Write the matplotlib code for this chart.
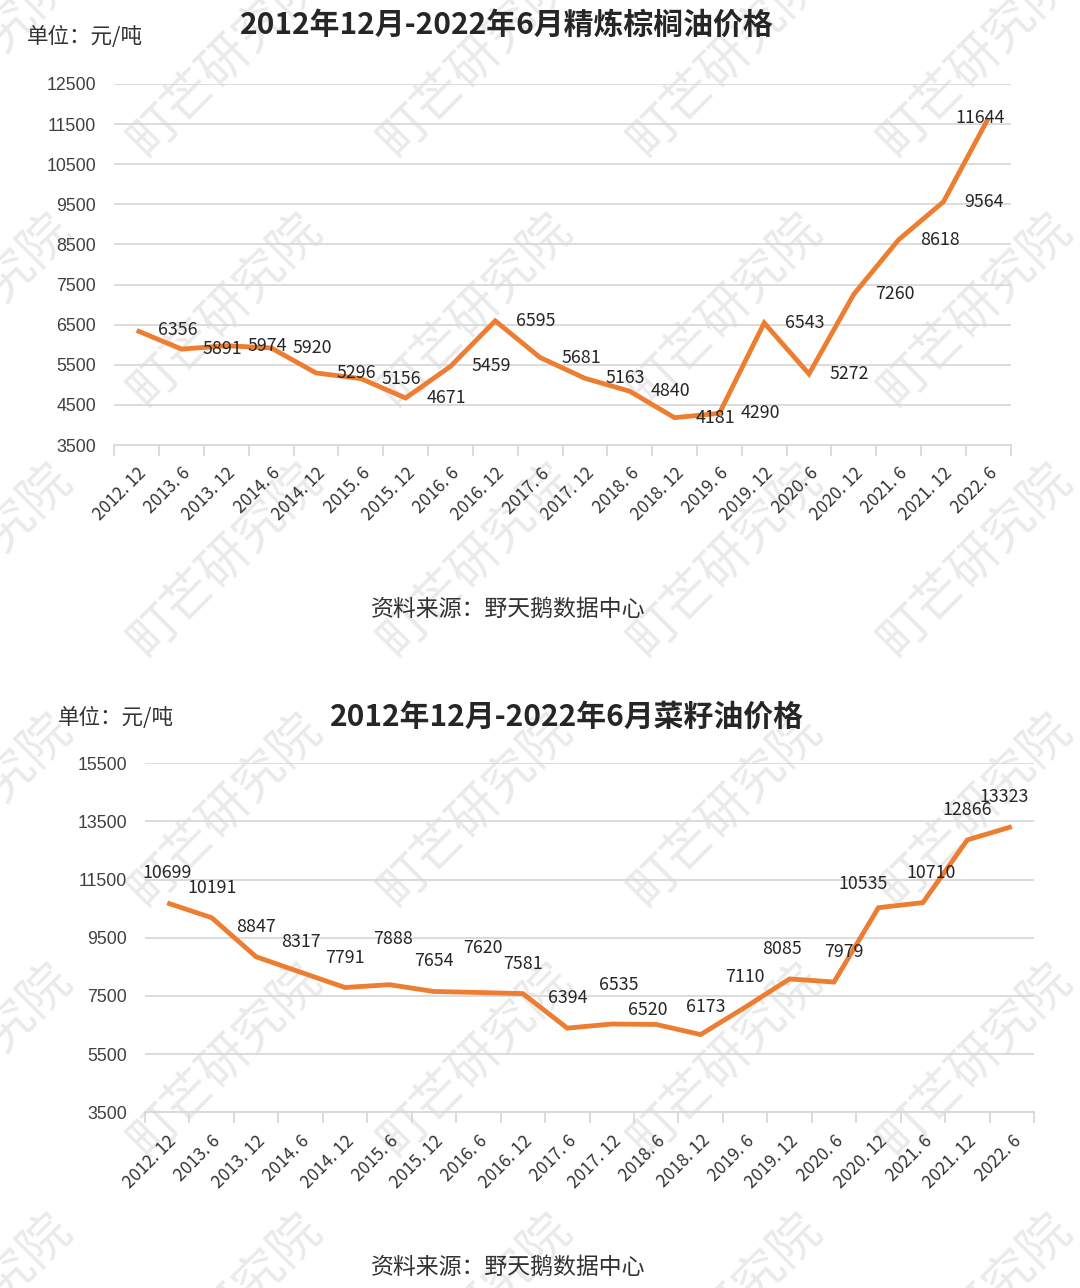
import matplotlib
matplotlib.use("Agg")
import matplotlib.pyplot as plt
from matplotlib.ticker import FixedLocator, NullFormatter

plt.rcParams['font.family'] = ['Noto Sans CJK SC', 'DejaVu Sans']

# ---------------- data ----------------
categories = ["2012.12", "2013.6", "2013.12", "2014.6", "2014.12", "2015.6", "2015.12",
              "2016.6", "2016.12", "2017.6", "2017.12", "2018.6", "2018.12", "2019.6",
              "2019.12", "2020.6", "2020.12", "2021.6", "2021.12", "2022.6"]
palm_prices = [6356, 5891, 5974, 5920, 5296, 5156, 4671, 5459, 6595, 5681,
               5163, 4840, 4181, 4290, 6543, 5272, 7260, 8618, 9564, 11644]
rapeseed_prices = [10699, 10191, 8847, 8317, 7791, 7888, 7654, 7620, 7581, 6394,
                   6535, 6520, 6173, 7110, 8085, 7979, 10535, 10710, 12866, 13323]
palm_yticks = [3500, 4500, 5500, 6500, 7500, 8500, 9500, 10500, 11500, 12500]
rapeseed_yticks = [3500, 5500, 7500, 9500, 11500, 13500, 15500]
title_palm = "2012年12月-2022年6月精炼棕榈油价格"
title_rapeseed = "2012年12月-2022年6月菜籽油价格"
unit_text = "单位：元/吨"
source_text = "资料来源：野天鹅数据中心"
watermark_text = "町芒研究院"

# ---------------- style ----------------
W, H = 1080, 1288
DPI = 100
ORANGE = "#ED7D31"
GRID = "#D9D9D9"
PX = 72.0 / DPI  # points per pixel

fig = plt.figure(figsize=(W / DPI, H / DPI), dpi=DPI)
fig.patch.set_facecolor("white")


def fx(px):
    return px / W


def fy(py):
    return 1 - py / H


# watermark (behind everything)
for cx in range(-25, 1100, 250):
    for cy in range(60, 1400, 250):
        fig.text(fx(cx), fy(cy), watermark_text, rotation=45, fontsize=36,
                 fontweight="normal", color="#EAEAEA", ha="center", va="center",
                 zorder=-5)


def make_axes(rect_px, values, yticks, label_mode, nudges):
    left, top, right, bottom = rect_px
    ax = fig.add_axes([fx(left), fy(bottom), (right - left) / W, (bottom - top) / H])
    ax.set_facecolor("none")
    x = list(range(len(values)))
    ax.plot(x, values, color=ORANGE, lw=4.8 * PX, solid_joinstyle="miter",
            solid_capstyle="butt", zorder=3)
    ax.set_xlim(-0.5, len(values) - 0.5)
    ax.set_ylim(yticks[0], yticks[-1])
    ax.set_yticks(yticks)
    ax.set_yticklabels([str(v) for v in yticks], fontfamily="Liberation Sans",
                       fontsize=12.8, color="#404040")
    ax.tick_params(axis="y", length=0, pad=13)
    ax.yaxis.grid(True, color=GRID, lw=1.3)
    ax.set_axisbelow(True)
    for s in ["left", "right", "top"]:
        ax.spines[s].set_visible(False)
    ax.spines["bottom"].set_color(GRID)
    ax.spines["bottom"].set_linewidth(1.3)
    # category labels at centres, tick marks at boundaries
    ax.set_xticks(x)
    ax.set_xticklabels([c.replace(".", ". ") for c in categories], rotation=45,
                       ha="right", va="top", rotation_mode="anchor",
                       fontsize=12.5, color="#333333")
    ax.tick_params(axis="x", which="major", length=0, pad=14)
    ax.xaxis.set_minor_locator(FixedLocator([i - 0.5 for i in range(len(values) + 1)]))
    ax.xaxis.set_minor_formatter(NullFormatter())
    ax.tick_params(axis="x", which="minor", length=8, width=1.3, color=GRID)
    for i, v in enumerate(values):
        if label_mode == "right":
            ha, dx, dy = "left", 21, 0
        else:
            ha, dx, dy = "center", 0, 30
        if i in nudges:
            ha, dx, dy = nudges[i]
        ax.annotate(str(v), (i, v), xytext=(dx * PX, dy * PX), textcoords="offset points",
                    ha=ha, va="center", fontsize=12.8, color="#262626", zorder=4)
    return ax


palm_nudges = {19: ("center", -8, 0)}
rape_nudges = {5: ("center", 4, 46), 7: ("center", 4, 44), 10: ("center", 7, 39),
               11: ("center", -8, 14), 12: ("center", 5, 28), 14: ("center", -8, 30),
               15: ("center", 10, 30), 16: ("center", -15, 24), 17: ("center", 8, 30),
               19: ("center", -8, 30)}

make_axes((114.3, 84, 1010.7, 445), palm_prices, palm_yticks, "right", palm_nudges)
make_axes((145, 763.3, 1034, 1112.3), rapeseed_prices, rapeseed_yticks, "above", rape_nudges)

# titles and texts
fig.text(fx(507), fy(25), title_palm, ha="center", va="center", fontsize=21.5,
         fontweight="bold", color="#262626")
fig.text(fx(567), fy(717), title_rapeseed, ha="center", va="center", fontsize=21.5,
         fontweight="bold", color="#262626")
fig.text(fx(27), fy(37), unit_text, ha="left", va="center", fontsize=15.5, color="#333333")
fig.text(fx(58), fy(718), unit_text, ha="left", va="center", fontsize=15.5, color="#333333")
fig.text(fx(508), fy(609), source_text, ha="center", va="center", fontsize=16.5, color="#333333")
fig.text(fx(508), fy(1267), source_text, ha="center", va="center", fontsize=16.5, color="#333333")

fig.savefig("out.png", dpi=DPI, facecolor="white")
